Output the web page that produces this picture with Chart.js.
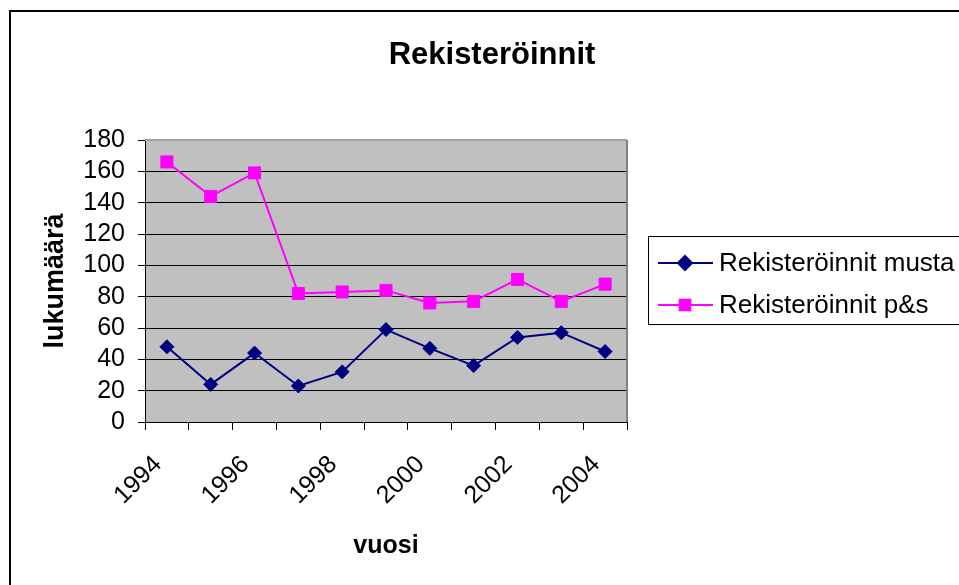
<!DOCTYPE html>
<html>
<head>
<meta charset="utf-8">
<title>Rekisteröinnit</title>
<script src="https://cdn.jsdelivr.net/npm/chart.js@4/dist/chart.umd.min.js"></script>
<style>
    html, body { margin: 0; padding: 0; background: #fff; }
    #wrap { width: 959px; height: 585px; position: relative; }
</style>
</head>
<body>
<div id="wrap"><canvas id="chart" width="959" height="585"></canvas></div>
<script>
// data
const years = ['1994', '1995', '1996', '1997', '1998', '1999', '2000', '2001', '2002', '2003', '2004'];
const mustaValues = [48, 24, 44, 23, 32, 59, 47, 36, 54, 57, 45];
const psValues = [166, 144, 159, 82, 83, 84, 76, 77, 91, 77, 88];
const yMin = 0;
const yMax = 180;
const yStep = 20;

const FONT = "'Liberation Sans', Arial, sans-serif";

// grey plot background, plot border, outer frame
const framePlugin = {
    id: 'frame',
    beforeDraw(chart) {
        const { ctx, chartArea: a } = chart;
        ctx.save();
        ctx.fillStyle = '#fff';
        ctx.fillRect(0, 0, chart.width, chart.height);
        ctx.fillStyle = '#c0c0c0';
        ctx.fillRect(a.left, a.top, a.right - a.left, a.bottom - a.top);
        ctx.restore();
    },
    beforeDatasetsDraw(chart) {
        const { ctx, chartArea: a } = chart;
        ctx.save();
        ctx.lineWidth = 2;
        ctx.strokeStyle = '#a0a0a0';
        ctx.beginPath();
        ctx.moveTo(a.left, a.top);
        ctx.lineTo(a.right, a.top);
        ctx.stroke();
        ctx.strokeStyle = '#808080';
        ctx.beginPath();
        ctx.moveTo(a.right, a.top);
        ctx.lineTo(a.right, a.bottom);
        ctx.stroke();
        ctx.restore();
    },
    afterDraw(chart) {
        const ctx = chart.ctx;
        ctx.save();
        // outer chart border (runs off the right and bottom edges)
        ctx.strokeStyle = '#000';
        ctx.lineWidth = 2;
        ctx.strokeRect(10, 11, 1200, 1200);

        // title
        ctx.fillStyle = '#000';
        ctx.font = 'bold 31px ' + FONT;
        ctx.textAlign = 'center';
        ctx.textBaseline = 'alphabetic';
        ctx.fillText('Rekisteröinnit', 492, 64);

        // legend box
        ctx.strokeStyle = '#000';
        ctx.lineWidth = 1;
        ctx.strokeRect(648.5, 236.5, 400, 88);
        ctx.font = '26px ' + FONT;
        ctx.textAlign = 'left';
        ctx.textBaseline = 'middle';
        const rowY = [263, 305];
        chart.data.datasets.forEach((ds, i) => {
            const y = rowY[i];
            ctx.strokeStyle = ds.borderColor;
            ctx.lineWidth = 2;
            ctx.beginPath();
            ctx.moveTo(658, y);
            ctx.lineTo(713, y);
            ctx.stroke();
            ctx.fillStyle = ds.pointBackgroundColor;
            ctx.strokeStyle = ds.pointBorderColor;
            Chart.helpers.drawPoint(ctx, {
                pointStyle: ds.pointStyle,
                radius: ds.legendRadius,
                rotation: 0,
                borderWidth: 1
            }, 685, y);
            ctx.fillStyle = '#000';
            ctx.fillText(ds.label, 719, y + 1);
        });
        ctx.restore();
    }
};

const ctx = document.getElementById('chart').getContext('2d');
new Chart(ctx, {
    type: 'line',
    data: {
        labels: years,
        datasets: [
            {
                label: 'Rekisteröinnit musta',
                data: mustaValues,
                borderColor: '#000080',
                borderWidth: 2,
                pointStyle: 'rectRot',
                pointRadius: 7,
                legendRadius: 7,
                pointBackgroundColor: '#000080',
                pointBorderColor: '#000080',
                pointBorderWidth: 1,
                tension: 0
            },
            {
                label: 'Rekisteröinnit p&s',
                data: psValues,
                borderColor: '#ff00ff',
                borderWidth: 2,
                pointStyle: 'rect',
                pointRadius: 8.5,
                legendRadius: 7.5,
                pointBackgroundColor: '#ff00ff',
                pointBorderColor: '#ff00ff',
                pointBorderWidth: 1,
                tension: 0
            }
        ]
    },
    options: {
        responsive: false,
        animation: false,
        devicePixelRatio: 1,
        layout: { padding: { left: 0, top: 140, right: 332, bottom: 0 } },
        plugins: {
            legend: { display: false },
            title: { display: false },
            tooltip: { enabled: false }
        },
        scales: {
            x: {
                type: 'category',
                offset: true,
                grid: {
                    offset: true,
                    drawOnChartArea: false,
                    drawTicks: true,
                    tickLength: 8,
                    color: '#000'
                },
                border: { color: '#000', width: 1 },
                ticks: {
                    autoSkip: false,
                    minRotation: 45,
                    maxRotation: 45,
                    padding: 20,
                    labelOffset: -9,
                    color: '#000',
                    font: { family: FONT, size: 25 },
                    callback: function (value, index) {
                        return index % 2 === 0 ? years[index] : '';
                    }
                },
                title: {
                    display: true,
                    text: 'vuosi',
                    color: '#000',
                    font: { family: FONT, size: 25, weight: 'bold' },
                    padding: { top: 0, bottom: 24 }
                },
                afterFit: s => { s.height = 163; }
            },
            y: {
                min: yMin,
                max: yMax,
                grid: {
                    color: c => (c.tick && c.tick.value === yMax) ? 'rgba(0,0,0,0)' : '#000',
                    tickColor: '#000',
                    tickLength: 7,
                    lineWidth: 1
                },
                border: { color: '#000', width: 1 },
                ticks: {
                    stepSize: yStep,
                    autoSkip: false,
                    padding: 13,
                    color: '#000',
                    font: { family: FONT, size: 25 }
                },
                title: {
                    display: true,
                    text: 'lukumäärä',
                    color: '#000',
                    font: { family: FONT, size: 27, weight: 'bold' },
                    padding: { top: 39, bottom: 0 }
                },
                afterFit: s => { s.width = 145; }
            }
        }
    },
    plugins: [framePlugin]
});
</script>
</body>
</html>
